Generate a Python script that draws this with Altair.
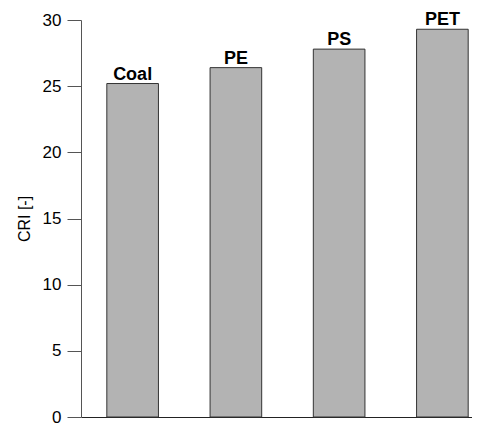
import altair as alt
import pandas as pd

categories = ["Coal", "PE", "PS", "PET"]
cri = [25.2, 26.4, 27.8, 29.3]

df = pd.DataFrame({"fuel": categories, "cri": cri})

FONT = "Liberation Sans"

base = alt.Chart(df).encode(
    x=alt.X(
        "fuel:N",
        sort=categories,
        scale=alt.Scale(paddingInner=0.5, paddingOuter=0.25, range=[0, 413]),
        axis=alt.Axis(title=None, labels=False, ticks=False, domainColor="#222222",
                      domainWidth=1.2),
    ),
    y=alt.Y(
        "cri:Q",
        scale=alt.Scale(domain=[0, 30]),
        axis=alt.Axis(
            title="CRI [-]",
            values=[0, 5, 10, 15, 20, 25, 30],
            grid=False,
            tickSize=14,
            labelPadding=6,
            labelFontSize=17,
            labelFont=FONT,
            labelColor="#000000",
            titleFont=FONT,
            titleFontSize=16,
            titleFontWeight="normal",
            titleColor="#000000",
            titlePadding=10,
            domainColor="#555555",
            tickColor="#555555",
        ),
    ),
)

bars = base.mark_bar(color="#b3b3b3", stroke="#333333", strokeWidth=1)
labels = base.mark_text(baseline="alphabetic", dy=-4, font=FONT, fontSize=18,
                        fontWeight="bold", color="#000000").encode(text="fuel:N")

chart = (bars + labels).properties(
    width=391,
    height=397,
    autosize=alt.AutoSizeParams(type="none"),
    padding={"left": 73, "top": 12, "right": 0, "bottom": 9},
).configure_view(stroke=None)

chart.save("out.html", embed_options={"renderer": "svg", "actions": False})
